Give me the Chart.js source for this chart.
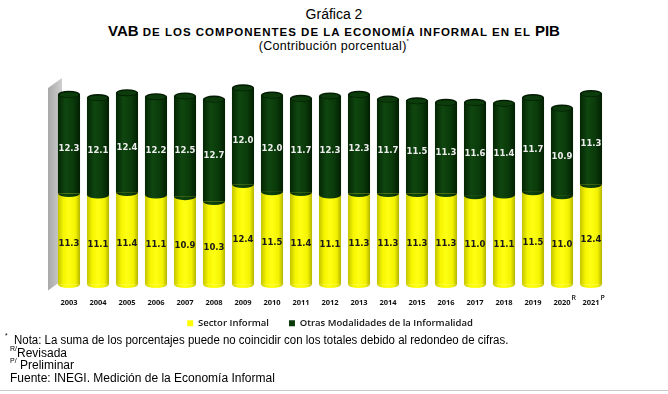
<!DOCTYPE html>
<html lang="es">
<head>
<meta charset="UTF-8">
<title>VAB de los componentes de la economía informal en el PIB</title>
<script src="https://cdn.jsdelivr.net/npm/chart.js"></script>
<style>
  body { margin: 0; background: #fff; width: 668px; height: 394px; position: relative; overflow: hidden;
         font-family: 'Liberation Sans', Arial, sans-serif; color: #000; }
  #chartBox { position: absolute; left: 0; top: 0; width: 668px; height: 348px; }
  .t { position: absolute; left: 0; width: 668px; text-align: center; white-space: nowrap; }
  #t1 { top: 6px; font-size: 14px; }
  #t2 { top: 22px; font-size: 11.5px; font-weight: bold; letter-spacing: 1px; }
  #t2 b { font-size: 15px; letter-spacing: 0; }
  #t3 { top: 38px; font-size: 12.5px; letter-spacing: 0.3px; }
  sup { font-size: 6px; vertical-align: 7px; }
  .note { position: absolute; left: 10px; font-size: 12px; white-space: nowrap; transform-origin: 0 0; }
  .note sup { font-size: 7px; vertical-align: 6px; }
  #rule { position: absolute; left: 0; top: 390px; width: 668px; height: 1px; background: #c8c8c8; }
</style>
</head>
<body>
<div id="t1" class="t">Gráfica 2</div>
<div id="t2" class="t"><b>VAB</b> DE LOS COMPONENTES DE LA ECONOMÍA INFORMAL EN EL <b>PIB</b></div>
<div id="t3" class="t">(Contribución porcentual)<sup>*</sup></div>
<div id="chartBox"><canvas id="chart"></canvas></div>
<div class="note" style="top:332px; left:5px; transform: scaleX(0.955);"><sup>*</sup>&nbsp; Nota: La suma de los porcentajes puede no coincidir con los totales debido al redondeo de cifras.</div>
<div class="note" style="top:345px;"><sup>R/</sup>Revisada</div>
<div class="note" style="top:357px;"><sup>P/</sup> Preliminar</div>
<div class="note" style="top:371px;">Fuente: INEGI. Medición de la Economía Informal</div>
<div id="rule"></div>

<script>
// data
const years = ['2003', '2004', '2005', '2006', '2007', '2008', '2009', '2010', '2011', '2012',
               '2013', '2014', '2015', '2016', '2017', '2018', '2019', '2020', '2021'];
const yearMarks = ['', '', '', '', '', '', '', '', '', '', '', '', '', '', '', '', '', 'R', 'P'];
const sectorInformal = [11.3, 11.1, 11.4, 11.1, 10.9, 10.3, 12.4, 11.5, 11.4, 11.1,
                        11.3, 11.3, 11.3, 11.3, 11.0, 11.1, 11.5, 11.0, 12.4];
const otrasModalidades = [12.3, 12.1, 12.4, 12.2, 12.5, 12.7, 12.0, 12.0, 11.7, 12.3,
                          12.3, 11.7, 11.5, 11.3, 11.6, 11.4, 11.7, 10.9, 11.3];

const YELLOW = '#ffff00';
const GREEN = '#0a3a0a';

// horizontal shading so every bar looks like a cylinder
function shade(ctx, x0, x1, stops) {
    const g = ctx.createLinearGradient(x0, 0, x1, 0);
    stops.forEach(s => g.addColorStop(s[0], s[1]));
    return g;
}
const yellowStops = [[0, '#c4c400'], [0.25, '#f6f600'], [0.5, '#ffff14'], [0.8, '#f2f200'], [1, '#b4b400']];
const greenStops = [[0, '#042604'], [0.35, '#0f460f'], [0.7, '#0a3a0a'], [1, '#031e03']];

// grey side wall at the left of the plot
const wallPlugin = {
    id: 'wall',
    beforeDatasetsDraw(chart) {
        const { ctx, chartArea: a } = chart;
        const xl = a.left - 6.5, xr = a.left + 7.5;
        ctx.save();
        const g = ctx.createLinearGradient(xl, 0, xr, 0);
        g.addColorStop(0, '#a9a9a9');
        g.addColorStop(1, '#cfcfcf');
        ctx.fillStyle = g;
        ctx.beginPath();
        ctx.moveTo(xl, a.top + 5);
        ctx.lineTo(xr, a.top - 5);
        ctx.lineTo(xr, a.bottom - 4);
        ctx.lineTo(xl, a.bottom + 6);
        ctx.closePath();
        ctx.fill();
        ctx.restore();
    }
};

const cylinderPlugin = {
    id: 'cylinder',
    afterDatasetsDraw(chart) {
        const ctx = chart.ctx;
        const low = chart.getDatasetMeta(0).data;
        const high = chart.getDatasetMeta(1).data;
        const ry = 3.5;
        ctx.save();
        low.forEach((bar, i) => {
            const top = high[i];
            const w = bar.width, x0 = bar.x - w / 2, x1 = bar.x + w / 2;
            ctx.fillStyle = shade(ctx, x0, x1, yellowStops);
            ctx.fillRect(x0, bar.y, w, bar.base - bar.y);
            ctx.beginPath();
            ctx.ellipse(bar.x, bar.base, w / 2, ry, 0, 0, Math.PI);
            ctx.fill();

            ctx.fillStyle = shade(ctx, x0, x1, greenStops);
            ctx.fillRect(x0, top.y, w, top.base - top.y);
            ctx.beginPath();
            ctx.ellipse(top.x, top.base, w / 2, ry, 0, 0, Math.PI);
            ctx.fill();

            // top cap: dark rim, slightly lighter face
            ctx.fillStyle = '#021a02';
            ctx.beginPath();
            ctx.ellipse(top.x, top.y, w / 2, ry, 0, 0, Math.PI * 2);
            ctx.fill();
            ctx.fillStyle = '#0c3c0c';
            ctx.beginPath();
            ctx.ellipse(top.x, top.y + 0.4, w / 2 - 1.5, ry - 1, 0, 0, Math.PI * 2);
            ctx.fill();
        });
        ctx.restore();
    }
};

const labelPlugin = {
    id: 'labels',
    afterDraw(chart) {
        const ctx = chart.ctx;
        ctx.save();
        ctx.font = 'bold 8.5px "DejaVu Sans", sans-serif';
        ctx.textAlign = 'center';
        ctx.textBaseline = 'middle';
        chart.data.datasets.forEach((ds, d) => {
            ctx.fillStyle = d === 0 ? '#1a1a1a' : '#ededed';
            chart.getDatasetMeta(d).data.forEach((bar, i) => {
                ctx.fillText(ds.data[i].toFixed(1), bar.x, (bar.y + bar.base) / 2 + 5);
            });
        });
        // superscripts on the last two years
        const xs = chart.scales.x;
        ctx.font = '600 7px "Open Sans", sans-serif';
        ctx.fillStyle = '#111';
        ctx.textAlign = 'left';
        yearMarks.forEach((m, i) => {
            if (!m) return;
            ctx.fillText(m, xs.getPixelForValue(i) + 9.5, chart.chartArea.bottom + 13.5);
        });
        ctx.restore();
    }
};

// pull the legend up so the wide item gap doesn't push it down
const legendShift = {
    id: 'legendShift',
    afterLayout(chart) {
        chart.legend.top -= 10;
        chart.legend.bottom -= 10;
    }
};

new Chart(document.getElementById('chart'), {
    type: 'bar',
    data: {
        labels: years,
        datasets: [
            { label: 'Sector Informal', data: sectorInformal, backgroundColor: YELLOW },
            { label: 'Otras Modalidades de la Informalidad', data: otrasModalidades, backgroundColor: GREEN }
        ]
    },
    options: {
        responsive: true,
        maintainAspectRatio: false,
        animation: false,
        datasets: { bar: { barPercentage: 0.76, categoryPercentage: 1 } },
        layout: { padding: { left: 54.5, right: 62.5, top: 83, bottom: 0 } },
        scales: {
            x: {
                stacked: true,
                grid: { display: false, drawTicks: false },
                border: { display: false },
                ticks: { padding: 13.5, color: '#111', font: { family: 'Open Sans', weight: 'bold', size: 7.5 } },
                afterFit(scale) { scale.height = 24; }
            },
            y: { stacked: true, display: false, min: 0, max: 25 }
        },
        plugins: {
            legend: {
                position: 'bottom',
                labels: {
                    usePointStyle: true, pointStyle: 'rect', boxWidth: 6, boxHeight: 6,
                    padding: 20, color: '#111',
                    font: { family: 'Open Sans', weight: '600', size: 9.5 }
                }
            },
            tooltip: { enabled: false }
        }
    },
    plugins: [wallPlugin, cylinderPlugin, labelPlugin, legendShift]
});
</script>
</body>
</html>
